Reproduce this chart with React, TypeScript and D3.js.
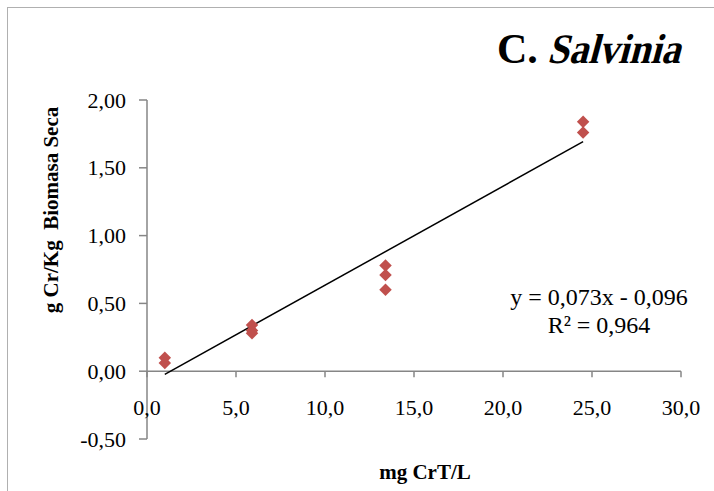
import React, { useEffect, useRef } from "react";
import * as d3 from "d3";

// Concentração (mg CrT/L) e acumulação (g Cr/Kg biomasa seca)
const xValues = [1.0, 1.0, 5.9, 5.9, 5.9, 13.4, 13.4, 13.4, 24.5, 24.5];
const yValues = [0.1, 0.06, 0.34, 0.3, 0.28, 0.78, 0.71, 0.6, 1.84, 1.76];
const xTicks = [0, 5, 10, 15, 20, 25, 30];
const yTicks = [-0.5, 0, 0.5, 1.0, 1.5, 2.0];
const trend = { slope: 0.073, intercept: -0.096 };
const equationLines = ["y = 0,073x - 0,096", "R² = 0,964"];

const App = () => {
  const svgRef = useRef<SVGSVGElement>(null);

  useEffect(() => {
    const width = 714, height = 491;
    const axisColor = "#868686";

    const svg = d3.select(svgRef.current);
    svg.selectAll("*").remove();
    svg.attr("width", width).attr("height", height)
      .style("font-family", "Liberation Serif, serif");

    // moldura
    svg.append("rect")
      .attr("x", 7.5).attr("y", 7.5)
      .attr("width", 720).attr("height", 500)
      .attr("fill", "#fff")
      .attr("stroke", "#b0b0b0")
      .attr("stroke-width", 1);

    const x = d3.scaleLinear().domain([0, 30]).range([147, 681]);
    const y = d3.scaleLinear().domain([-0.5, 2.0]).range([439, 100]);

    // eixo Y
    svg.append("line")
      .attr("x1", x(0)).attr("x2", x(0))
      .attr("y1", y(2.0)).attr("y2", y(-0.5))
      .attr("stroke", axisColor).attr("stroke-width", 1.5);

    svg.selectAll(".ytick")
      .data(yTicks)
      .enter()
      .append("line")
      .attr("x1", x(0) - 8).attr("x2", x(0))
      .attr("y1", d => y(d)).attr("y2", d => y(d))
      .attr("stroke", axisColor).attr("stroke-width", 1.5);

    svg.selectAll(".ylabel")
      .data(yTicks)
      .enter()
      .append("text")
      .attr("x", x(0) - 21)
      .attr("y", d => y(d) + 7.5)
      .attr("text-anchor", "end")
      .style("font-size", "22px")
      .attr("fill", "#000")
      .text(d => d3.format(".2f")(d).replace(".", ",").replace("−", "-"));

    // eixo X (em y = 0)
    svg.append("line")
      .attr("x1", x(0)).attr("x2", x(30))
      .attr("y1", y(0)).attr("y2", y(0))
      .attr("stroke", axisColor).attr("stroke-width", 1.5);

    svg.selectAll(".xtick")
      .data(xTicks)
      .enter()
      .append("line")
      .attr("x1", d => x(d)).attr("x2", d => x(d))
      .attr("y1", y(0)).attr("y2", y(0) + 6)
      .attr("stroke", axisColor).attr("stroke-width", 1.5);

    svg.selectAll(".xlabel")
      .data(xTicks)
      .enter()
      .append("text")
      .attr("x", d => x(d))
      .attr("y", y(0) + 44)
      .attr("text-anchor", "middle")
      .style("font-size", "22px")
      .attr("fill", "#000")
      .text(d => d3.format(".1f")(d).replace(".", ","));

    // linha de tendência
    const [xMin, xMax] = d3.extent(xValues) as [number, number];
    svg.append("line")
      .attr("x1", x(xMin)).attr("y1", y(trend.slope * xMin + trend.intercept))
      .attr("x2", x(xMax)).attr("y2", y(trend.slope * xMax + trend.intercept))
      .attr("stroke", "#000").attr("stroke-width", 1.5);

    // pontos (losangos)
    const diamond = d3.symbol().type(d3.symbolSquare).size(78);
    svg.selectAll(".pt")
      .data(xValues.map((v, i) => [v, yValues[i]]))
      .enter()
      .append("path")
      .attr("d", diamond)
      .attr("transform", d => `translate(${x(d[0])},${y(d[1])}) rotate(45)`)
      .attr("fill", "#C0504D");

    // equação
    svg.selectAll(".eq")
      .data(equationLines)
      .enter()
      .append("text")
      .attr("x", 599)
      .attr("y", (d, i) => 305 + i * 28)
      .attr("text-anchor", "middle")
      .style("font-size", "24px")
      .attr("fill", "#000")
      .text(d => d);

    // título (itálico simulado com skew, não há serif bold italic instalada)
    svg.append("text")
      .attr("x", 497).attr("y", 63)
      .style("font-size", "42px")
      .style("font-weight", "bold")
      .attr("fill", "#000")
      .text("C.");
    svg.append("text")
      .attr("transform", "translate(547,63) skewX(-15)")
      .style("font-size", "42px")
      .style("font-weight", "bold")
      .attr("textLength", 133)
      .attr("lengthAdjust", "spacingAndGlyphs")
      .attr("fill", "#000")
      .text("Salvinia");

    // títulos dos eixos
    svg.append("text")
      .attr("x", 425).attr("y", 479)
      .attr("text-anchor", "middle")
      .style("font-size", "21px")
      .style("font-weight", "bold")
      .text("mg CrT/L");

    svg.append("text")
      .attr("transform", "translate(58,210) rotate(-90)")
      .attr("text-anchor", "middle")
      .style("font-size", "21px")
      .style("font-weight", "bold")
      .style("white-space", "pre")
      .text("g Cr/Kg  Biomasa Seca");
  }, []);

  return <svg ref={svgRef} style={{ position: "absolute", left: 0, top: 0, display: "block" }} />;
};

export default App;
